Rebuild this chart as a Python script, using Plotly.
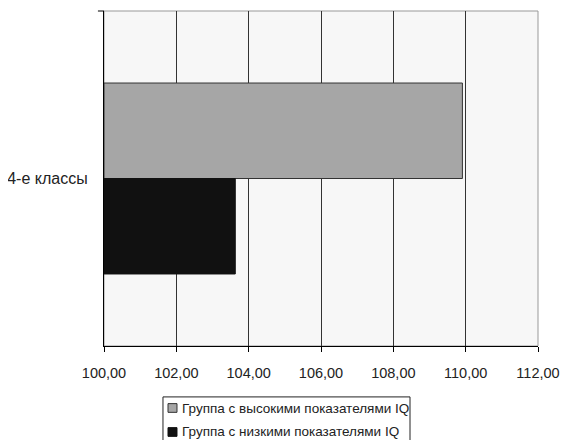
import plotly.graph_objects as go

categories = ["4-е классы"]
series_names = ["Группа с высокими показателями IQ", "Группа с низкими показателями IQ"]
series_colors = ["#a6a6a6", "#111111"]
high_iq = [109.91]
low_iq = [103.63]
tick_vals = [100, 102, 104, 106, 108, 110, 112]
tick_text = ["100,00", "102,00", "104,00", "106,00", "108,00", "110,00", "112,00"]

fig = go.Figure()
fig.add_trace(go.Bar(
    y=categories, x=[v - 100 for v in high_iq], base=100, orientation="h",
    name=series_names[0],
    marker=dict(color=series_colors[0], line=dict(color="#333333", width=1)),
))
fig.add_trace(go.Bar(
    y=categories, x=[v - 100 for v in low_iq], base=100, orientation="h",
    name=series_names[1],
    marker=dict(color=series_colors[1], line=dict(color="#111111", width=1)),
))

# legend drawn as a boxed key below the plot (Excel style); paper width = 434 px
legend_shapes = [
    dict(type="rect", xref="paper", yref="paper", x0=0.1359, x1=0.7051, y0=-0.152, y1=-0.335,
         line=dict(color="#222222", width=1), fillcolor="white", layer="above"),
    dict(type="rect", xref="paper", yref="paper", x0=0.1475, x1=0.1682, y0=-0.1720, y1=-0.1980,
         line=dict(color="#333333", width=1), fillcolor=series_colors[0], layer="above"),
    dict(type="rect", xref="paper", yref="paper", x0=0.1475, x1=0.1682, y0=-0.2437, y1=-0.2697,
         line=dict(color="#111111", width=1), fillcolor=series_colors[1], layer="above"),
]
legend_annotations = [
    dict(text=series_names[0], xref="paper", yref="paper", x=0.1762, y=-0.1851,
         xanchor="left", yanchor="middle", showarrow=False,
         font=dict(size=13.5, color="#222222")),
    dict(text=series_names[1], xref="paper", yref="paper", x=0.1762, y=-0.2567,
         xanchor="left", yanchor="middle", showarrow=False,
         font=dict(size=13.5, color="#222222")),
]

# page body has an 8px default margin, figure offset accordingly
fig.update_layout(
    width=552, height=432,
    margin=dict(l=96, r=22, t=3, b=94),
    paper_bgcolor="white", plot_bgcolor="#f7f7f7",
    barmode="group", bargap=0.43, bargroupgap=0,
    font=dict(family="Liberation Sans, Arial, sans-serif", size=14, color="#222222"),
    showlegend=False,
    shapes=[
        dict(type="rect", xref="paper", yref="paper", x0=0, x1=1, y0=0, y1=1,
             line=dict(color="#999999", width=1), layer="below"),
        dict(type="line", xref="paper", yref="paper", x0=-0.014, x1=0, y0=1, y1=1,
             line=dict(color="#000000", width=1)),
    ] + legend_shapes,
    annotations=legend_annotations,
)
fig.update_xaxes(
    range=[100, 112], tickvals=tick_vals, ticktext=tick_text,
    showgrid=True, gridcolor="#333333", gridwidth=1,
    showline=True, linecolor="#000000", linewidth=1.2,
    ticks="outside", ticklen=5, tickcolor="#000000",
    ticklabelstandoff=8, automargin=False, ticklabeloverflow="allow",
    zeroline=False, tickfont=dict(size=14.5, color="#222222"),
)
fig.update_yaxes(
    autorange="reversed", automargin=False,
    showgrid=False, showline=True, linecolor="#000000", linewidth=1.2,
    ticks="", ticklabelstandoff=12, tickfont=dict(size=16, color="#222222"),
)

fig.write_html("out.html")
